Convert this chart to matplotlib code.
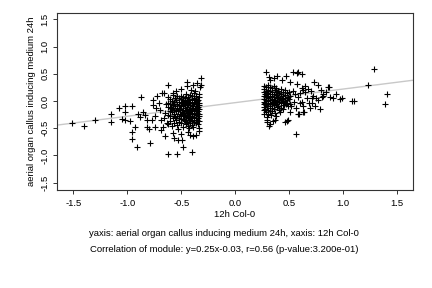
import numpy as np
import matplotlib
matplotlib.use("Agg")
import matplotlib.pyplot as plt

# ---------------------------------------------------------------------------
# Data
# ---------------------------------------------------------------------------

# points with x < 0 (12h Col-0 down-regulated)
left_points = [
    (-1.51, -0.40), (-1.40, -0.46), (-1.30, -0.34), (-1.15, -0.23), (-1.15, -0.39),
    (-1.08, -0.13), (-1.02, -0.10), (-1.02, -0.20), (-0.96, -0.09), (-1.05, -0.33),
    (-1.02, -0.34), (-0.97, -0.36), (-0.96, -0.56), (-0.96, -0.69), (-0.91, -0.84),
    (-0.93, -0.47), (-0.90, -0.23), (-0.87, 0.07), (-0.85, -0.21), (-0.82, -0.34),
    (-0.82, -0.47), (-0.80, -0.51), (-0.79, -0.77), (-0.76, 0.02), (-0.76, -0.07),
    (-0.77, -0.34), (-0.74, -0.47), (-0.72, 0.09), (-0.71, -0.03), (-0.70, -0.16),
    (-0.69, -0.35), (-0.69, -0.54), (-0.68, 0.15), (-0.65, -0.22), (-0.67, -0.47),
    (-0.65, -0.65), (-0.62, 0.29), (-0.62, -0.98), (-0.54, -0.98), (-0.53, -0.72),
    (-0.49, -0.72), (-0.48, -0.85), (-0.40, -0.93), (-0.39, -0.64), (-0.34, -0.55),
    (-0.66, 0.15), (-0.45, 0.35), (-0.45, 0.28), (-0.39, 0.29), (-0.33, 0.25),
    (-0.32, 0.30), (-0.32, 0.42), (-0.88, -0.30), (-0.84, -0.26), (-0.74, -0.28),
    (-0.73, -0.12), (-0.66, -0.31), (-0.64, -0.05), (-0.63, -0.40), (-0.58, -0.58),
    (-0.57, -0.68), (-0.50, -0.60), (-0.44, -0.56), (-0.42, -0.62), (-0.36, -0.63),
    (-0.55, 0.18), (-0.50, 0.22), (-0.41, 0.20), (-0.37, 0.18), (-0.58, 0.14),
    (-0.35, 0.33),
    (-0.340, 0.12), (-0.335, 0.07), (-0.345, 0.02), (-0.340, -0.03), (-0.336, -0.07),
    (-0.343, -0.11), (-0.338, -0.15), (-0.345, -0.19), (-0.340, -0.23), (-0.336, -0.28),
    (-0.342, -0.32), (-0.338, -0.37), (-0.345, -0.43), (-0.340, -0.49),
    (-0.360, 0.10), (-0.365, 0.04), (-0.358, 0.00), (-0.362, -0.05), (-0.367, -0.09),
    (-0.355, -0.13), (-0.363, -0.17), (-0.358, -0.22), (-0.366, -0.26), (-0.360, -0.31),
    (-0.356, -0.35), (-0.364, -0.41),
    (-0.380, 0.14), (-0.385, 0.06), (-0.377, 0.01), (-0.383, -0.04), (-0.388, -0.10),
    (-0.376, -0.15), (-0.384, -0.19), (-0.379, -0.24), (-0.386, -0.29), (-0.381, -0.34),
    (-0.378, -0.39), (-0.387, -0.47),
    (-0.400, 0.09), (-0.405, 0.03), (-0.398, -0.02), (-0.404, -0.07), (-0.399, -0.12),
    (-0.408, -0.17), (-0.401, -0.22), (-0.396, -0.27), (-0.406, -0.32), (-0.400, -0.37),
    (-0.403, -0.44),
    (-0.420, 0.11), (-0.425, 0.02), (-0.418, -0.03), (-0.423, -0.08), (-0.428, -0.14),
    (-0.417, -0.19), (-0.424, -0.24), (-0.420, -0.29), (-0.426, -0.35), (-0.419, -0.41),
    (-0.424, -0.50),
    (-0.440, 0.07), (-0.445, 0.00), (-0.438, -0.05), (-0.443, -0.11), (-0.447, -0.16),
    (-0.436, -0.21), (-0.444, -0.26), (-0.440, -0.32), (-0.446, -0.38), (-0.437, -0.45),
    (-0.460, 0.12), (-0.465, 0.05), (-0.458, -0.01), (-0.463, -0.07), (-0.467, -0.13),
    (-0.455, -0.18), (-0.462, -0.25), (-0.459, -0.30), (-0.466, -0.36), (-0.460, -0.42),
    (-0.480, 0.08), (-0.485, 0.01), (-0.477, -0.04), (-0.483, -0.10), (-0.488, -0.17),
    (-0.476, -0.22), (-0.484, -0.28), (-0.479, -0.34), (-0.486, -0.47),
    (-0.500, 0.10), (-0.505, 0.04), (-0.497, -0.03), (-0.503, -0.09), (-0.508, -0.15),
    (-0.496, -0.20), (-0.504, -0.26), (-0.500, -0.33), (-0.506, -0.40),
    (-0.520, 0.06), (-0.525, -0.01), (-0.518, -0.07), (-0.523, -0.13), (-0.527, -0.19),
    (-0.516, -0.24), (-0.524, -0.31), (-0.520, -0.38), (-0.526, -0.51),
    (-0.540, 0.09), (-0.545, 0.02), (-0.538, -0.05), (-0.543, -0.12), (-0.547, -0.18),
    (-0.536, -0.27), (-0.544, -0.35), (-0.540, -0.44),
    (-0.560, 0.05), (-0.565, -0.02), (-0.558, -0.10), (-0.563, -0.16), (-0.567, -0.23),
    (-0.556, -0.30), (-0.564, -0.41),
    (-0.580, 0.11), (-0.585, 0.00), (-0.578, -0.08), (-0.583, -0.14), (-0.587, -0.21),
    (-0.576, -0.32), (-0.584, -0.46),
    (-0.600, 0.03), (-0.605, -0.06), (-0.598, -0.12), (-0.603, -0.19), (-0.600, -0.28),
    (-0.606, -0.37),
    (-0.620, 0.07), (-0.625, -0.04), (-0.618, -0.11), (-0.623, -0.25), (-0.620, -0.43),
]

# points with x > 0 (12h Col-0 up-regulated)
right_points = [
    (0.28, 0.53), (0.39, 0.46), (0.47, 0.46), (0.53, 0.53), (0.58, 0.53),
    (0.62, 0.50), (1.28, 0.59), (1.23, 0.29), (1.40, 0.13), (1.39, -0.06),
    (1.08, 0.00), (1.10, 0.00), (0.99, 0.05), (0.97, 0.03), (0.88, 0.08),
    (0.90, 0.06), (0.86, 0.26), (0.87, 0.25), (0.81, 0.13), (0.80, 0.08),
    (0.73, 0.34), (0.77, 0.29), (0.78, -0.15), (0.69, -0.12), (0.71, -0.04),
    (0.62, 0.24), (0.65, 0.27), (0.63, -0.20), (0.58, -0.23), (0.56, -0.61),
    (0.49, -0.35), (0.48, -0.36), (0.46, -0.38), (0.37, -0.35), (0.35, -0.36),
    (0.32, -0.42), (0.31, -0.46), (0.29, -0.29), (0.29, -0.35), (0.29, -0.38),
    (0.41, -0.21), (0.45, -0.07), (0.51, -0.20), (0.63, -0.10), (0.54, -0.01),
    (0.57, 0.32), (0.51, 0.34), (0.43, 0.39), (0.32, 0.39), (0.57, 0.51),
    (0.75, 0.05), (0.77, 0.02), (0.74, -0.10), (0.64, -0.21), (0.59, -0.23),
    (0.63, 0.20), (0.65, 0.16), (0.67, 0.22), (0.71, 0.05), (0.72, 0.09),
    (0.68, -0.04), (0.62, -0.01), (0.60, -0.03), (0.81, 0.10), (0.55, 0.12),
    (0.58, 0.08), (0.60, 0.15), (0.53, 0.18), (0.56, -0.13), (0.52, -0.10),
    (0.66, 0.06), (0.70, 0.18), (0.79, 0.20), (0.84, 0.16), (0.93, 0.12),
    (0.31, 0.45), (0.36, 0.42), (0.33, -0.26), (0.38, -0.27),
    (0.265, 0.28), (0.268, 0.22), (0.262, 0.16), (0.266, 0.10), (0.263, 0.04),
    (0.267, -0.01), (0.264, -0.06), (0.268, -0.11), (0.262, -0.17), (0.266, -0.23),
    (0.280, 0.25), (0.284, 0.19), (0.277, 0.13), (0.282, 0.08), (0.286, 0.02),
    (0.279, -0.03), (0.283, -0.08), (0.278, -0.14), (0.285, -0.20),
    (0.300, 0.30), (0.304, 0.21), (0.297, 0.15), (0.302, 0.09), (0.306, 0.05),
    (0.299, 0.00), (0.303, -0.05), (0.298, -0.10), (0.305, -0.16), (0.301, -0.24),
    (0.320, 0.26), (0.324, 0.18), (0.317, 0.12), (0.322, 0.07), (0.326, 0.01),
    (0.319, -0.04), (0.323, -0.09), (0.318, -0.13), (0.325, -0.19),
    (0.340, 0.23), (0.344, 0.16), (0.337, 0.10), (0.342, 0.04), (0.346, -0.01),
    (0.339, -0.06), (0.343, -0.12), (0.338, -0.18),
    (0.360, 0.27), (0.364, 0.20), (0.357, 0.13), (0.362, 0.08), (0.366, 0.02),
    (0.359, -0.03), (0.363, -0.08), (0.358, -0.15), (0.365, -0.22),
    (0.380, 0.24), (0.384, 0.17), (0.377, 0.11), (0.382, 0.05), (0.386, 0.00),
    (0.379, -0.05), (0.383, -0.11),
    (0.400, 0.19), (0.404, 0.14), (0.397, 0.08), (0.402, 0.03), (0.406, -0.02),
    (0.399, -0.09), (0.403, -0.16),
    (0.420, 0.22), (0.424, 0.12), (0.417, 0.06), (0.422, 0.01), (0.426, -0.04),
    (0.419, -0.12),
    (0.440, 0.16), (0.444, 0.09), (0.437, 0.04), (0.442, -0.01), (0.446, -0.07),
    (0.439, -0.14),
    (0.460, 0.20), (0.464, 0.11), (0.457, 0.06), (0.462, 0.00), (0.466, -0.05),
    (0.480, 0.14), (0.484, 0.07), (0.477, 0.02), (0.482, -0.03), (0.486, -0.10),
    (0.500, 0.17), (0.504, 0.09), (0.497, 0.03), (0.502, -0.06),
]

slope = 0.25
intercept = -0.03

ticks = [-1.5, -1.0, -0.5, 0.0, 0.5, 1.0, 1.5]
tick_labels = ["-1.5", "-1.0", "-0.5", "0.0", "0.5", "1.0", "1.5"]

xlabel = "12h Col-0"
ylabel = "aerial organ callus inducing medium 24h"
caption = "yaxis: aerial organ callus inducing medium 24h, xaxis: 12h Col-0"
stats = "Correlation of module: y=0.25x-0.03, r=0.56 (p-value:3.200e-01)"

# ---------------------------------------------------------------------------
# Plot
# ---------------------------------------------------------------------------

plt.rcParams["font.family"] = ["Liberation Sans", "DejaVu Sans"]
plt.rcParams["font.size"] = 6.8

pts = np.array(left_points + right_points)

fig = plt.figure(figsize=(4.32, 2.88), dpi=100)
ax = fig.add_axes([57 / 432, 98 / 288, 356 / 432, 177 / 288])

ax.axline((0, intercept), slope=slope, color="#c8c8c8", linewidth=1.0, zorder=1)
ax.scatter(pts[:, 0], pts[:, 1], marker="+", s=18, color="black",
           linewidths=0.8, zorder=2)

ax.set_xlim(-1.65, 1.645)
ax.set_ylim(-1.634, 1.616)
ax.set_xticks(ticks)
ax.set_xticklabels(tick_labels)
ax.set_yticks(ticks)
ax.set_yticklabels(tick_labels, rotation=90, va="center")
ax.tick_params(direction="out", length=3, width=0.7, color="#333333")
ax.tick_params(axis="x", pad=3.5)
ax.tick_params(axis="y", pad=2.5)
for sp in ax.spines.values():
    sp.set_linewidth(0.8)
    sp.set_color("#333333")

ax.set_xlabel(xlabel, labelpad=1.5)
ax.set_ylabel(ylabel, labelpad=3)

fig.text(224 / 432, 1 - 233 / 288, caption, ha="center", va="center")
fig.text(224 / 432, 1 - 250 / 288, stats, ha="center", va="center")

fig.savefig("out.png", dpi=100)
